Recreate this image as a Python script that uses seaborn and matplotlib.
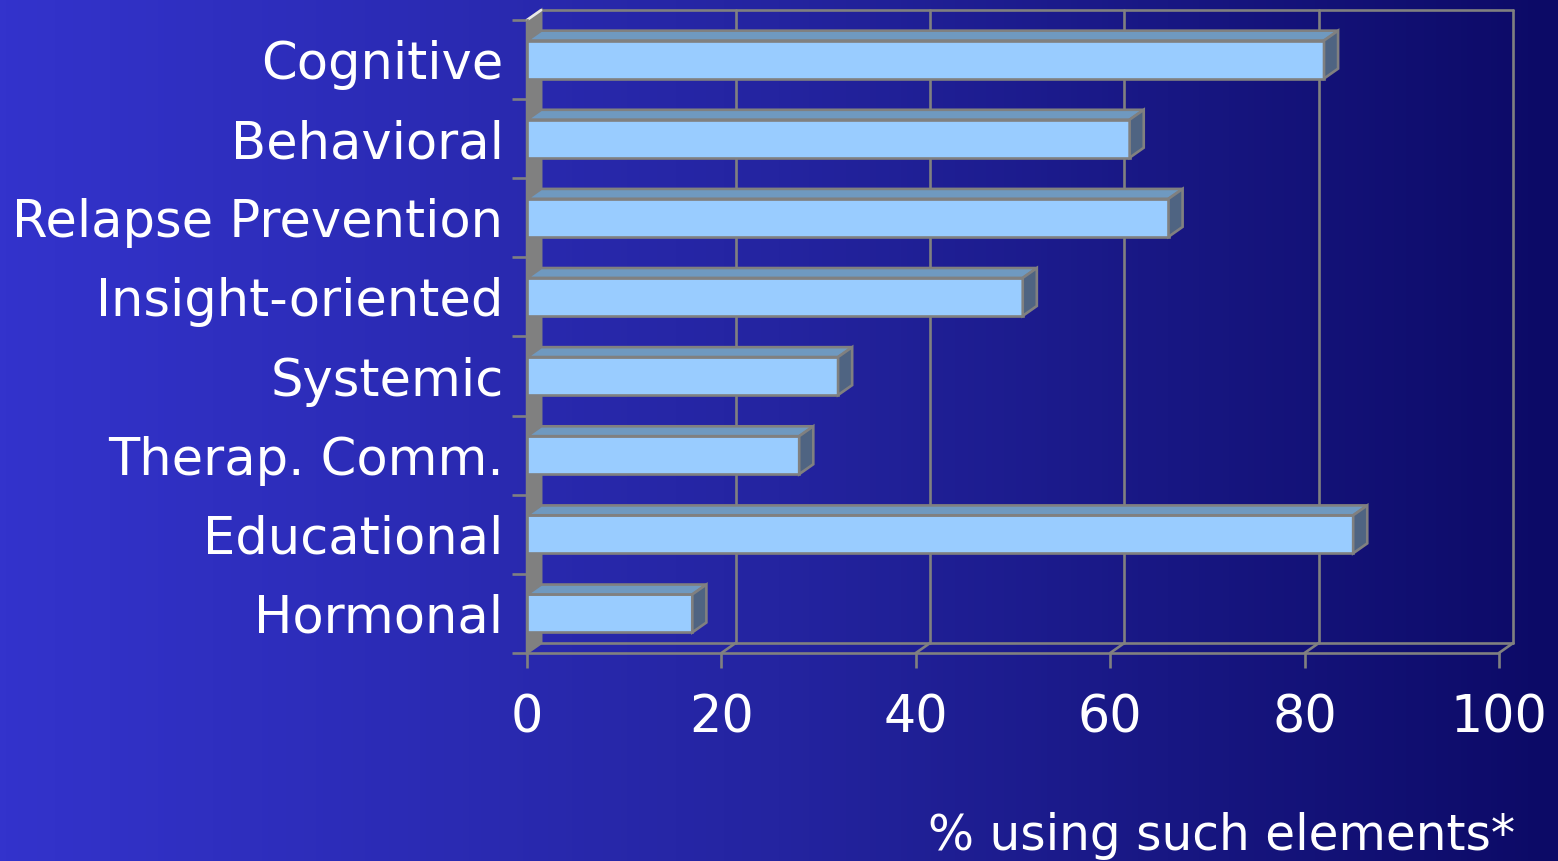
import matplotlib
matplotlib.use("Agg")
import matplotlib.pyplot as plt
import numpy as np
import pandas as pd
import seaborn as sns
from matplotlib.colors import LinearSegmentedColormap
from matplotlib.patches import Polygon

categories = ["Cognitive", "Behavioral", "Relapse Prevention", "Insight-oriented",
              "Systemic", "Therap. Comm.", "Educational", "Hormonal"]
percent = [82, 62, 66, 51, 32, 28, 85, 17]
x_ticks = [0, 20, 40, 60, 80, 100]
x_label = "% using such elements*"

df = pd.DataFrame({"category": categories, "percent": percent})

sns.set_style("white")
plt.rcParams["font.family"] = ["DejaVu Sans"]

GRAY = "#808080"
FRONT = "#99ccff"
TOP = "#6f99c0"
SIDE = "#4f6482"
DX, DY = 1.45, 0.125  # depth of the fake 3d box, in data units
LW = 1.9

fig = plt.figure(figsize=(15.58, 8.61), dpi=100)

# gradient background
bg = fig.add_axes([0, 0, 1, 1], zorder=-5)
grad = np.linspace(0, 1, 512).reshape(1, -1)
cmap = LinearSegmentedColormap.from_list("bg", ["#3333cc", "#2424a0", "#0c0a66"])
bg.imshow(grad, aspect="auto", cmap=cmap, extent=[0, 1, 0, 1])
bg.set_axis_off()

ax = fig.add_axes([0.3383, 0.2416, 0.6238, 0.7352])
ax.patch.set_alpha(0)

sns.barplot(data=df, x="percent", y="category", orient="h", color=FRONT,
            saturation=1, width=0.48, edgecolor=GRAY, linewidth=LW, ax=ax, zorder=3)

n = len(categories)
ax.set_xlim(0, 100)
ax.set_ylim(n - 0.5, -0.5)
y_bot, y_top = n - 0.5, -0.5

# back wall grid + frame
for xv in x_ticks[1:]:
    ax.plot([xv + DX, xv + DX], [y_bot - DY, y_top - DY], color=GRAY, lw=LW,
            clip_on=False, zorder=1)
    ax.plot([xv, xv + DX], [y_bot, y_bot - DY], color=GRAY, lw=LW,
            clip_on=False, zorder=1)
ax.plot([DX, 100 + DX], [y_top - DY, y_top - DY], color=GRAY, lw=LW, clip_on=False, zorder=1)
ax.plot([DX, 100 + DX], [y_bot - DY, y_bot - DY], color=GRAY, lw=LW, clip_on=False, zorder=1)
ax.plot([0, 100], [y_bot, y_bot], color=GRAY, lw=LW, clip_on=False, zorder=2)

# left side wall
wall = Polygon([(0, y_bot), (0, y_top), (DX, y_top - DY), (DX, y_bot - DY)],
               closed=True, facecolor=GRAY, edgecolor=GRAY, lw=LW, clip_on=False, zorder=2)
ax.add_patch(wall)
ax.plot([0, DX], [y_top, y_top - DY], color="#e8e8e8", lw=LW, clip_on=False, zorder=2)

# 3d faces of the bars
for bar in ax.patches[:n]:
    x0 = bar.get_x()
    w = bar.get_width()
    y0 = bar.get_y()
    h = bar.get_height()
    top = min(y0, y0 + h)
    bot = max(y0, y0 + h)
    ax.add_patch(Polygon([(x0, top), (x0 + w, top), (x0 + w + DX, top - DY), (x0 + DX, top - DY)],
                         closed=True, facecolor=TOP, edgecolor=GRAY, lw=LW,
                         clip_on=False, zorder=4))
    ax.add_patch(Polygon([(x0 + w, top), (x0 + w, bot), (x0 + w + DX, bot - DY), (x0 + w + DX, top - DY)],
                         closed=True, facecolor=SIDE, edgecolor=GRAY, lw=LW,
                         clip_on=False, zorder=4))

for s in ["top", "right", "bottom"]:
    ax.spines[s].set_visible(False)
ax.spines["left"].set_color(GRAY)
ax.spines["left"].set_linewidth(LW)

ax.set_xticks(x_ticks)
ax.set_xticklabels([str(t) for t in x_ticks])
ax.set_yticks(np.arange(-0.5, n, 1.0), minor=True)
ax.tick_params(axis="x", which="major", colors=GRAY, labelcolor="white",
               length=11, width=LW, direction="out", labelsize=36.5, pad=18, bottom=True)
ax.tick_params(axis="y", which="major", length=0, labelcolor="white",
               labelsize=36.8, pad=17)
ax.tick_params(axis="y", which="minor", colors=GRAY, length=11, width=LW,
               direction="out", left=True)
ax.set_xlabel("")
ax.set_ylabel("")

fig.text(0.9724, 0.013, x_label, ha="right", va="baseline", color="white", fontsize=35)

fig.savefig("out.png", dpi=100)
